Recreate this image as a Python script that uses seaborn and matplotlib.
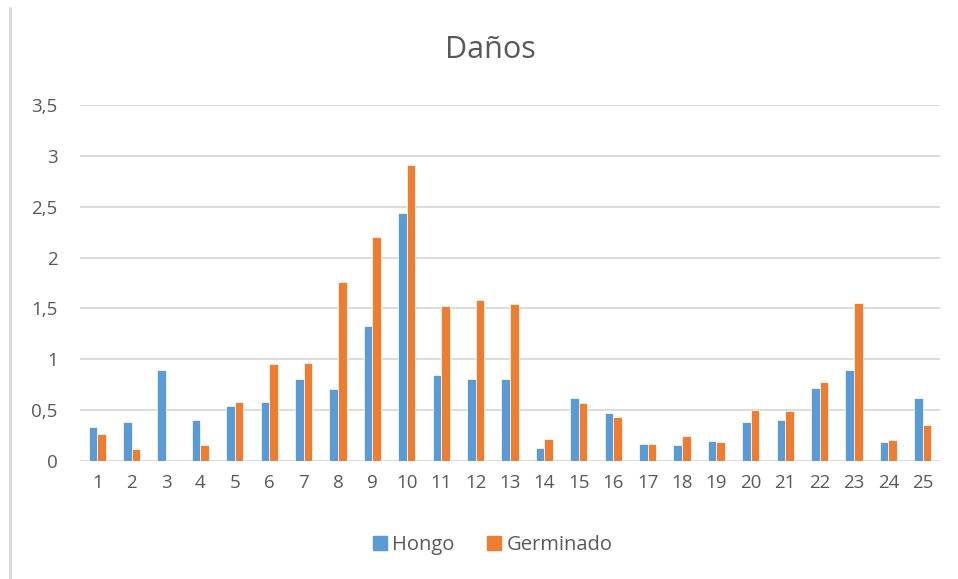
import matplotlib
matplotlib.use("Agg")
import matplotlib.pyplot as plt
import seaborn as sns
import pandas as pd
from matplotlib.lines import Line2D

categories = [str(i) for i in range(1, 26)]
hongo = [0.33, 0.38, 0.89, 0.40, 0.54, 0.58, 0.81, 0.71, 1.33, 2.44,
         0.85, 0.81, 0.81, 0.13, 0.62, 0.47, 0.17, 0.16, 0.20, 0.38,
         0.40, 0.72, 0.89, 0.19, 0.62]
germinado = [0.27, 0.12, 0.00, 0.16, 0.58, 0.95, 0.96, 1.76, 2.20, 2.91,
             1.52, 1.58, 1.54, 0.22, 0.57, 0.43, 0.17, 0.25, 0.19, 0.50,
             0.49, 0.78, 1.55, 0.21, 0.35]
series_names = ["Hongo", "Germinado"]
yticks = [0, 0.5, 1, 1.5, 2, 2.5, 3, 3.5]
ytick_labels = ["0", "0,5", "1", "1,5", "2", "2,5", "3", "3,5"]

df = pd.DataFrame({
    "cat": categories * 2,
    "value": hongo + germinado,
    "serie": [series_names[0]] * 25 + [series_names[1]] * 25,
})

sns.set_theme(style="white")
plt.rcParams["font.family"] = ["Open Sans", "DejaVu Sans"]

colors = {"Hongo": "#5B9BD5", "Germinado": "#ED7D31"}
text_color = "#595959"

fig = plt.figure(figsize=(9.58, 5.79), dpi=100)
ax = fig.add_axes([80 / 958, 1 - 461 / 579, 860 / 958, 356 / 579])

sns.barplot(data=df, x="cat", y="value", hue="serie", order=categories,
            hue_order=series_names, palette=colors, width=0.5,
            edgecolor="white", linewidth=0.5, saturation=1, ax=ax,
            legend=False, zorder=3)

ax.set_ylim(0, 3.5)
ax.set_xlim(-0.5, 24.5)
ax.set_yticks(yticks)
ax.set_yticklabels(ytick_labels)
ax.yaxis.grid(True, color="#d9d9d9", linewidth=1.3, zorder=0)
ax.set_axisbelow(True)
for s in ax.spines.values():
    s.set_visible(False)
ax.tick_params(axis="both", length=0, labelsize=13.5, colors=text_color)
ax.tick_params(axis="x", pad=9)
ax.tick_params(axis="y", pad=16)
ax.set_xlabel("")
ax.set_ylabel("")

fig.text(490 / 958, 1 - 50 / 579, "Daños", ha="center", va="center",
         fontsize=22, color=text_color)

handles = [Line2D([0], [0], marker="s", linestyle="none", markersize=10,
                  markerfacecolor=colors[n], markeredgecolor=colors[n])
           for n in series_names]
fig.legend(handles, series_names, loc="center", bbox_to_anchor=(491 / 958, 1 - 545 / 579),
           ncol=2, frameon=False, fontsize=14.5, labelcolor=text_color,
           handletextpad=0.1, columnspacing=1.5, handlelength=1.0)

fig.add_artist(Line2D([10 / 958, 10 / 958], [0, 1 - 8 / 579], transform=fig.transFigure,
                      color="#d9d9d9", linewidth=2.2))

fig.savefig("out.png", dpi=100, facecolor="white")
